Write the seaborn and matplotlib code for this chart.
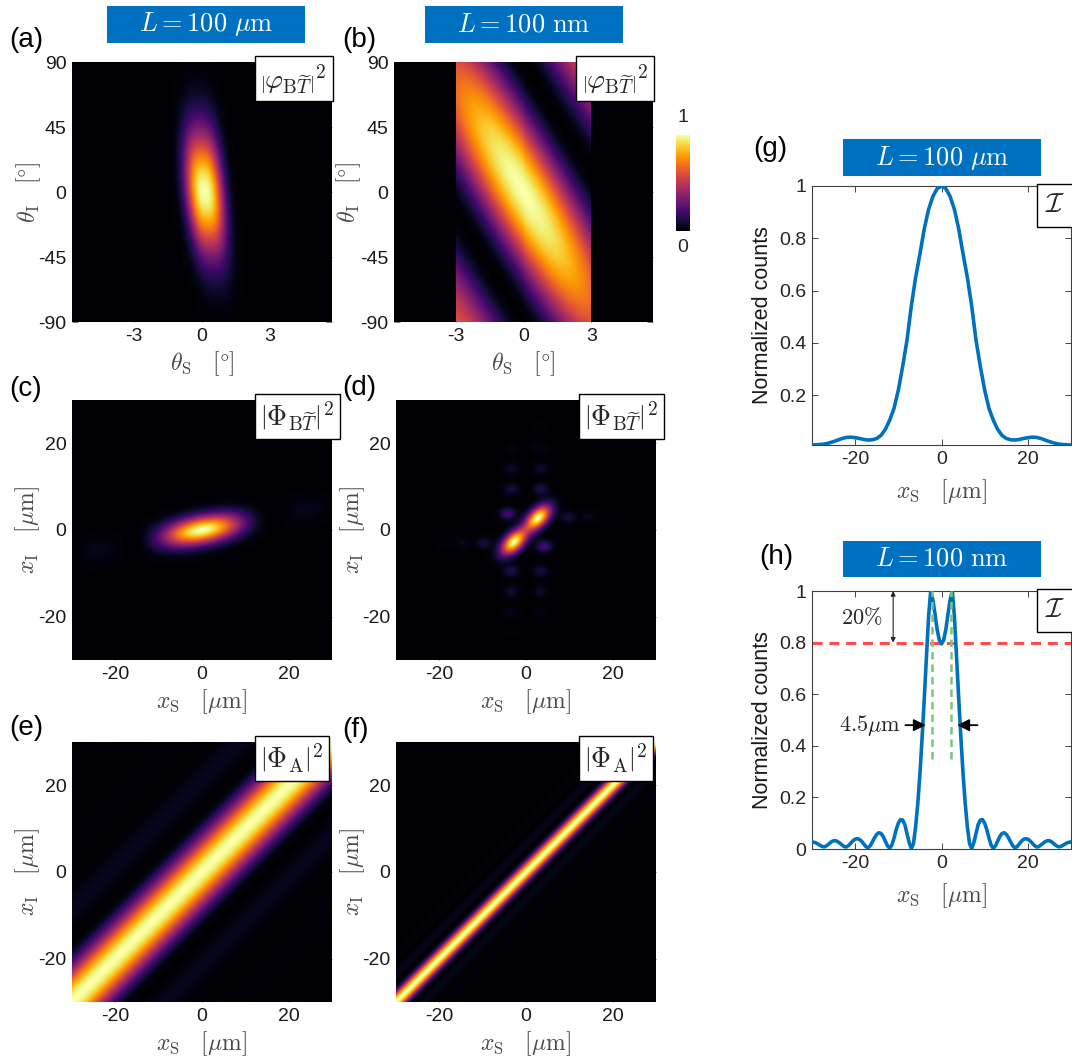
import numpy as np
import matplotlib
matplotlib.use("Agg")
import matplotlib.pyplot as plt
from matplotlib.patches import Rectangle
import seaborn as sns

sns.set_theme(style="ticks")
plt.rcParams["font.family"] = ["Liberation Sans", "DejaVu Sans"]
plt.rcParams["mathtext.fontset"] = "cm"
plt.rcParams["axes.edgecolor"] = "#262626"
plt.rcParams["axes.linewidth"] = 0.8

W, H = 1072, 1062
fig = plt.figure(figsize=(W / 100, H / 100), dpi=100)


def px_axes(x0, y0, x1, y1):
    return fig.add_axes([x0 / W, 1 - y1 / H, (x1 - x0) / W, (y1 - y0) / H])


# ---------------------------------------------------------------- grids
n_grid = 260
theta_s_lim = 5.73     # deg
theta_i_lim = 90.0     # deg
x_lim = 30.0           # um

# (a) thick crystal, angular joint intensity
a_ridge_coef = [0.12, -0.006, 2.5e-5]  # ridge theta_S(theta_I), polynomial
a_width_s = 0.8                        # deg
a_power_s = 2.6
a_sigma_i = 30.0                       # deg

# (b) thin crystal, angular joint intensity
b_slope = 25.0          # band direction theta_I + slope*theta_S
b_period = 180.0        # deg
b_env_s = 4.0
b_env_i = 150.0
b_cut = 3.0             # collection window |theta_S| <= 3 deg

# (c) thick crystal, position joint intensity
c_angle = 11.0          # deg
c_sinc_width = 17.0     # um
c_minor_sigma = 2.2     # um

# (d) thin crystal, position joint intensity
d_peak_offset = 2.8
d_sigma_diag = 2.5
d_sigma_perp = 1.4
d_spot_sigma = [1.3, 1.0]
d_sat_xs = [-4.2, 4.2, 3.4, -3.4, -3.4, 3.4, 3.4, -3.4, -3.4, 3.4, 3.4, -3.4,
            -3.4, 3.4, 3.4, -3.4, 9.8, -9.8, 14.5, -14.5, 19.0, -19.0]
d_sat_xi = [3.8, -3.8, 9.5, -9.5, 9.5, -9.5, 14.2, -14.2, 14.2, -14.2, 19.0, -19.0,
            19.0, -19.0, 23.5, -23.5, 3.0, -3.0, 3.0, -3.0, 3.0, -3.0]
d_sat_amp = [0.20, 0.20, 0.12, 0.12, 0.10, 0.10, 0.08, 0.08, 0.07, 0.07, 0.045, 0.045,
             0.035, 0.035, 0.02, 0.02, 0.10, 0.10, 0.05, 0.05, 0.025, 0.025]

# (e), (f) two-photon amplitude in position
e_sinc_width = 15.0
f_sinc_width = 4.5

# (g), (h) coincidence profiles
g_xs = np.arange(-30, 31, 1.0)
g_counts = [0.010, 0.011, 0.012, 0.014, 0.018, 0.023, 0.029, 0.035, 0.039, 0.040,
            0.038, 0.035, 0.031, 0.029, 0.030, 0.035, 0.047, 0.070, 0.105, 0.150,
            0.220, 0.310, 0.410, 0.540, 0.650, 0.740, 0.835, 0.910, 0.960, 0.990,
            1.000,
            0.990, 0.960, 0.910, 0.835, 0.740, 0.650, 0.540, 0.410, 0.310, 0.220,
            0.150, 0.105, 0.070, 0.047, 0.035, 0.030, 0.029, 0.031, 0.035, 0.038,
            0.040, 0.039, 0.035, 0.029, 0.023, 0.018, 0.014, 0.012, 0.011, 0.010]
h_xs = np.linspace(-30, 30, 121)
h_counts = [0.027, 0.026, 0.023, 0.018, 0.013, 0.009, 0.009, 0.014, 0.021, 0.028,
            0.032, 0.032, 0.028, 0.022, 0.015, 0.009, 0.008, 0.014, 0.023, 0.032,
            0.038, 0.040, 0.037, 0.030, 0.019, 0.009, 0.005, 0.013, 0.028, 0.044,
            0.057, 0.063, 0.060, 0.048, 0.030, 0.012, 0.003, 0.015, 0.042, 0.075,
            0.100, 0.114, 0.112, 0.095, 0.060, 0.025, 0.003, 0.020, 0.085, 0.175,
            0.290, 0.430, 0.580, 0.740, 0.900, 1.000, 0.965, 0.910, 0.850, 0.810,
            0.795,
            0.810, 0.850, 0.910, 0.965, 1.000, 0.900, 0.740, 0.580, 0.430, 0.290,
            0.175, 0.085, 0.020, 0.003, 0.025, 0.060, 0.095, 0.112, 0.114, 0.100,
            0.075, 0.042, 0.015, 0.003, 0.012, 0.030, 0.048, 0.060, 0.063, 0.057,
            0.044, 0.028, 0.013, 0.005, 0.009, 0.019, 0.030, 0.037, 0.040, 0.038,
            0.032, 0.023, 0.014, 0.008, 0.009, 0.015, 0.022, 0.028, 0.032, 0.032,
            0.028, 0.021, 0.014, 0.009, 0.009, 0.013, 0.018, 0.023, 0.026, 0.027]
threshold_level = 0.8
peak_separation = 4.5

# ---------------------------------------------------------------- fields
ts = np.linspace(-theta_s_lim, theta_s_lim, n_grid)
ti = np.linspace(-theta_i_lim, theta_i_lim, n_grid)
TS, TI = np.meshgrid(ts, ti)
xx = np.linspace(-x_lim, x_lim, n_grid)
XS, XI = np.meshgrid(xx, xx)

ridge = a_ridge_coef[0] + a_ridge_coef[1] * TI + a_ridge_coef[2] * TI ** 2
Za = np.exp(-np.abs((TS - ridge) / a_width_s) ** a_power_s) * np.exp(-TI ** 2 / (2 * a_sigma_i ** 2))
Za /= Za.max()

u = TI + b_slope * TS
Zb = np.cos(np.pi * u / b_period) ** 2 * np.exp(-TS ** 2 / (2 * b_env_s ** 2)) \
    * np.exp(-TI ** 2 / (2 * b_env_i ** 2))
Zb[np.abs(TS) > b_cut] = 0.0
Zb /= Zb.max()

ang = np.deg2rad(c_angle)
major = XS * np.cos(ang) + XI * np.sin(ang)
minor = -XS * np.sin(ang) + XI * np.cos(ang)
Zc = np.sinc(major / c_sinc_width) ** 2 * np.exp(-minor ** 2 / (2 * c_minor_sigma ** 2))
Zc /= Zc.max()

diag = (XS + XI) / np.sqrt(2)
perp = (XI - XS) / np.sqrt(2)
pa = d_peak_offset * np.sqrt(2)
Zd = np.exp(-perp ** 2 / (2 * d_sigma_perp ** 2)) * (
    np.exp(-(diag - pa) ** 2 / (2 * d_sigma_diag ** 2)) + np.exp(-(diag + pa) ** 2 / (2 * d_sigma_diag ** 2)))
Zd /= Zd.max()
for sx, si, amp in zip(d_sat_xs, d_sat_xi, d_sat_amp):
    Zd += amp * np.exp(-(XS - sx) ** 2 / (2 * d_spot_sigma[0] ** 2) - (XI - si) ** 2 / (2 * d_spot_sigma[1] ** 2))
Zd = np.clip(Zd, 0, 1)

Ze = np.sinc((XS - XI) / e_sinc_width) ** 2
Zf = np.sinc((XS - XI) / f_sinc_width) ** 2

# ---------------------------------------------------------------- styles
tick_fs = 14
math_fs = 17
label_color = "#4a4a4a"
line_blue = "#0072BD"
title_blue = "#0070C0"


def draw_map(ax, Z, xlim, ylim, xticks, yticks, xlabel, ylabel, tag, ylab_x, cbar_ax=None):
    nr, nc = Z.shape
    sns.heatmap(Z[::-1], ax=ax, cmap="inferno", vmin=0, vmax=1,
                cbar=cbar_ax is not None, cbar_ax=cbar_ax,
                xticklabels=False, yticklabels=False, rasterized=True)
    ax.set_xticks([(v - xlim[0]) / (xlim[1] - xlim[0]) * nc for v in xticks])
    ax.set_xticklabels([f"{v:g}" for v in xticks])
    ax.set_yticks([(ylim[1] - v) / (ylim[1] - ylim[0]) * nr for v in yticks])
    ax.set_yticklabels([f"{v:g}" for v in yticks])
    ax.tick_params(direction="in", length=4, width=0.6, color="#606060",
                   top=True, right=True, bottom=True, left=True,
                   labelsize=tick_fs, labelcolor="#1a1a1a", pad=4)
    ax.set_xlabel(xlabel, fontsize=math_fs, color=label_color)
    ax.set_ylabel(ylabel, fontsize=math_fs, color=label_color)
    ax.xaxis.set_label_coords(0.5, -0.105)
    ax.yaxis.set_label_coords(ylab_x, 0.5)
    ax.xaxis.label.set_va("top")
    ax.text(0.725, 1.0, tag, transform=ax.transAxes, ha="left", va="top",
            fontsize=20, zorder=6,
            bbox=dict(boxstyle="square,pad=0.2", fc="white", ec="black", lw=1.0))


def title_box(x0, y0, x1, y1, text):
    fig.patches.append(Rectangle((x0 / W, 1 - y1 / H), (x1 - x0) / W, (y1 - y0) / H,
                                 transform=fig.transFigure, fc=title_blue, ec="none"))
    fig.text((x0 + x1) / 2 / W, 1 - (y0 + y1) / 2 / H, text, color="white",
             fontsize=19, ha="center", va="center")


def panel_tag(x, y, s):
    fig.text(x / W, 1 - y / H, s, fontsize=20, ha="left", va="center", color="black")


lab_ts = r"$\theta_{\mathrm{S}}\quad[\degree]$"
lab_ti = r"$\theta_{\mathrm{I}}\quad[\degree]$"
lab_xs = r"$x_{\mathrm{S}}\quad[\mu\mathrm{m}]$"
lab_xi = r"$x_{\mathrm{I}}\quad[\mu\mathrm{m}]$"
tag_phi = r"$\left|\varphi_{\mathrm{B}\widetilde{T}}\right|^2$"
tag_Phi = r"$\left|\Phi_{\mathrm{B}\widetilde{T}}\right|^2$"
tag_A = r"$\left|\Phi_{\mathrm{A}}\right|^2$"

ang_x = (-theta_s_lim, theta_s_lim)
ang_y = (-theta_i_lim, theta_i_lim)
pos = (-x_lim, x_lim)

ax_a = px_axes(72, 62, 332, 322)
draw_map(ax_a, Za, ang_x, ang_y, [-3, 0, 3], [90, 45, 0, -45, -90], lab_ts, lab_ti, tag_phi, -0.112)
ax_b = px_axes(394, 62, 653, 322)
cax = px_axes(676, 135, 690, 231)
draw_map(ax_b, Zb, ang_x, ang_y, [-3, 0, 3], [90, 45, 0, -45, -90], lab_ts, lab_ti, tag_phi, -0.12,
         cbar_ax=cax)
cb = ax_b.collections[0].colorbar
cb.outline.set_visible(False)
cb.set_ticks([])
fig.text(683 / W, 1 - 117 / H, "1", fontsize=tick_fs, ha="center", va="center")
fig.text(683 / W, 1 - 247 / H, "0", fontsize=tick_fs, ha="center", va="center")

ax_c = px_axes(72, 400, 332, 660)
draw_map(ax_c, Zc, pos, pos, [-20, 0, 20], [-20, 0, 20], lab_xs, lab_xi, tag_Phi, -0.115)
ax_d = px_axes(396, 400, 656, 660)
draw_map(ax_d, Zd, pos, pos, [-20, 0, 20], [-20, 0, 20], lab_xs, lab_xi, tag_Phi, -0.11)
ax_e = px_axes(72, 742, 332, 1002)
draw_map(ax_e, Ze, pos, pos, [-20, 0, 20], [-20, 0, 20], lab_xs, lab_xi, tag_A, -0.115)
ax_f = px_axes(396, 742, 656, 1002)
draw_map(ax_f, Zf, pos, pos, [-20, 0, 20], [-20, 0, 20], lab_xs, lab_xi, tag_A, -0.11)


def profile_axes(ax, xs, ys, ymin, yticks):
    sns.lineplot(x=xs, y=ys, ax=ax, color=line_blue, linewidth=2.6, zorder=3)
    ax.set_xlim(-x_lim, x_lim)
    ax.set_ylim(ymin, 1.0)
    ax.set_xticks([-20, 0, 20])
    ax.set_xticklabels(["-20", "0", "20"])
    ax.set_yticks(yticks)
    ax.set_yticklabels([f"{v:g}" for v in yticks])
    ax.tick_params(direction="in", length=4, width=0.6, color="#262626",
                   top=True, right=True, labelsize=tick_fs, pad=4)
    ax.set_xlabel(lab_xs, fontsize=math_fs, color=label_color)
    ax.xaxis.set_label_coords(0.5, -0.125)
    ax.xaxis.label.set_va("top")
    ax.set_ylabel("Normalized counts", fontsize=15.5, color="#1a1a1a")
    ax.yaxis.set_label_coords(-0.15, 0.5)
    for sp in ax.spines.values():
        sp.set_color("#404040")
        sp.set_linewidth(0.8)
    ax.text(0.9, 0.975, r"$\mathcal{I}$", transform=ax.transAxes, ha="left", va="top",
            fontsize=20, zorder=6, clip_on=False,
            bbox=dict(boxstyle="square,pad=0.3", fc="white", ec="black", lw=1.0))


ax_g = px_axes(812, 186, 1071, 445)
profile_axes(ax_g, g_xs, g_counts, min(g_counts), [0.2, 0.4, 0.6, 0.8, 1.0])

ax_h = px_axes(812, 591, 1071, 849)
profile_axes(ax_h, h_xs, h_counts, 0.0, [0, 0.2, 0.4, 0.6, 0.8, 1.0])
ax_h.axhline(threshold_level, color="#ff4d4d", lw=2.2, ls=(0, (3.3, 2.2)), zorder=2)
for xg in (-peak_separation / 2, peak_separation / 2):
    ax_h.plot([xg, xg], [0.35, 1.0], color="#7cc47c", lw=1.8, ls=(0, (3, 2)), zorder=4)
arrow_y = 0.48
ax_h.annotate("", xy=(-3.0, arrow_y), xytext=(-9.0, arrow_y),
              arrowprops=dict(arrowstyle="-|>", color="black", lw=1.3, mutation_scale=18))
ax_h.annotate("", xy=(3.0, arrow_y), xytext=(9.0, arrow_y),
              arrowprops=dict(arrowstyle="-|>", color="black", lw=1.3, mutation_scale=18))
ax_h.text(-9.4, arrow_y, r"$4.5\mu\mathrm{m}$", fontsize=16, ha="right", va="center")
ax_h.annotate("", xy=(-11.2, 1.0), xytext=(-11.2, threshold_level),
              arrowprops=dict(arrowstyle="<|-|>", color="#262626", lw=0.8, mutation_scale=7,
                              shrinkA=0, shrinkB=0))
ax_h.text(-18.5, 0.895, r"$20\%$", fontsize=16, ha="center", va="center")

# ---------------------------------------------------------------- titles and tags
title_box(107, 6, 305, 43, r"$L = 100\ \mu\mathrm{m}$")
title_box(425, 6, 623, 43, r"$L = 100\ \mathrm{nm}$")
title_box(843, 139, 1041, 176, r"$L = 100\ \mu\mathrm{m}$")
title_box(843, 541, 1041, 577, r"$L = 100\ \mathrm{nm}$")

panel_tag(9, 40, "(a)")
panel_tag(342, 40, "(b)")
panel_tag(9, 389, "(c)")
panel_tag(342, 388, "(d)")
panel_tag(9, 728, "(e)")
panel_tag(342, 730, "(f)")
panel_tag(753, 149, "(g)")
panel_tag(759, 557, "(h)")

fig.savefig("out.png", dpi=100)
